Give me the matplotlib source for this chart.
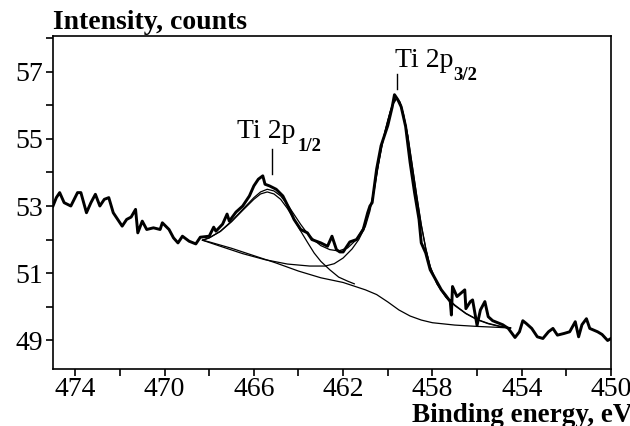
import matplotlib
matplotlib.use('Agg')
import matplotlib.pyplot as plt
from matplotlib.ticker import MultipleLocator

plt.rcParams['font.family'] = ['Liberation Serif', 'DejaVu Serif']

# raw spectrum (binding energy, intensity)
raw_x = [475.0, 474.85, 474.7, 474.5, 474.2, 473.9, 473.75, 473.5, 473.3, 473.1,
         472.9, 472.7, 472.5, 472.3, 472.1, 471.9, 471.7, 471.5, 471.3, 471.2,
         471.0, 470.8, 470.5, 470.2, 470.1, 469.8, 469.6, 469.4, 469.2, 468.9,
         468.6, 468.4, 468.0, 467.8, 467.7, 467.4, 467.2, 467.1, 466.8, 466.5,
         466.2, 466.0, 465.8, 465.6, 465.5, 465.3, 465.0, 464.7, 464.4, 464.2,
         463.9, 463.6, 463.4, 463.0, 462.7, 462.5, 462.3, 462.15, 462.0, 461.7,
         461.4, 461.1, 460.9, 460.8, 460.7, 460.5, 460.3, 460.0, 459.8, 459.7,
         459.55, 459.4, 459.2, 459.0, 458.8, 458.6, 458.5, 458.3, 458.1, 457.8,
         457.6, 457.4, 457.2, 457.15, 457.1, 456.9, 456.55, 456.5, 456.3, 456.2,
         456.0, 455.85, 455.65, 455.5, 455.3, 454.85, 454.6, 454.3, 454.1, 453.95,
         453.8, 453.55, 453.3, 453.05, 452.8, 452.6, 452.4, 452.1, 451.85, 451.6,
         451.45, 451.3, 451.1, 450.95, 450.6, 450.4, 450.15, 450.0]
raw_y = [53.0, 53.25, 53.4, 53.1, 53.0, 53.4, 53.4, 52.8, 53.1, 53.35,
         53.0, 53.2, 53.25, 52.8, 52.6, 52.4, 52.6, 52.67, 52.9, 52.2,
         52.55, 52.3, 52.35, 52.3, 52.5, 52.3, 52.05, 51.9, 52.1, 51.95,
         51.87, 52.07, 52.1, 52.37, 52.25, 52.46, 52.76, 52.55, 52.82, 53.0,
         53.3, 53.6, 53.8, 53.9, 53.65, 53.6, 53.5, 53.3, 52.9, 52.6,
         52.3, 52.2, 52.0, 51.9, 51.8, 52.1, 51.7, 51.63, 51.63, 51.93,
         52.0, 52.3, 52.8, 53.0, 53.1, 54.1, 54.8, 55.4, 55.96, 56.32,
         56.17, 55.96, 55.37, 54.3, 53.4, 52.6, 51.9, 51.6, 51.1, 50.74,
         50.5, 50.33, 50.15, 49.75, 50.6, 50.3, 50.5, 49.94, 50.15, 50.2,
         49.44, 49.9, 50.15, 49.7, 49.58, 49.46, 49.35, 49.08, 49.25, 49.58,
         49.5, 49.35, 49.1, 49.05, 49.25, 49.35, 49.15, 49.2, 49.25, 49.55,
         49.1, 49.46, 49.64, 49.35, 49.25, 49.17, 48.99, 49.05]

# fitted envelope
env_x = [468.3, 468.0, 467.5, 467.0, 466.5, 466.0, 465.7, 465.4, 465.1, 464.8,
         464.5, 464.2, 463.9, 463.6, 463.3, 463.0, 462.6, 462.2, 461.8, 461.4,
         461.1, 460.9, 460.7, 460.5, 460.3, 460.1, 459.9, 459.75, 459.6, 459.45,
         459.3, 459.1, 458.9, 458.7, 458.5, 458.3, 458.1, 457.8, 457.4, 457.0,
         456.5, 456.0, 455.5, 455.0, 454.5]
env_y = [51.98, 52.05, 52.25, 52.55, 52.9, 53.25, 53.42, 53.5, 53.45, 53.3,
         53.05, 52.75, 52.45, 52.18, 51.98, 51.82, 51.7, 51.66, 51.75, 52.0,
         52.35, 52.7, 53.2, 53.95, 54.7, 55.3, 55.8, 56.1, 56.22, 56.1,
         55.75, 55.1, 54.2, 53.3, 52.45, 51.75, 51.2, 50.7, 50.3, 50.05,
         49.8, 49.62, 49.5, 49.42, 49.37]

# Ti 2p1/2 component
p12_x = [468.3, 468.0, 467.5, 467.0, 466.5, 466.0, 465.7, 465.4, 465.1, 464.8,
         464.5, 464.2, 463.9, 463.6, 463.3, 463.0, 462.6, 462.2, 461.8, 461.5]
p12_y = [51.98, 52.05, 52.24, 52.53, 52.87, 53.2, 53.36, 53.42, 53.36, 53.2,
         52.93, 52.6, 52.25, 51.92, 51.6, 51.35, 51.1, 50.88, 50.76, 50.68]

# Ti 2p3/2 component
p32_x = [468.3, 467.5, 466.5, 465.5, 464.5, 463.5, 462.8, 462.4, 462.0, 461.6,
         461.3, 461.0, 460.8, 460.6, 460.4, 460.2, 460.0, 459.8, 459.6, 459.45,
         459.3, 459.1, 458.9, 458.7, 458.5, 458.3, 458.1, 457.8, 457.4, 457.0,
         456.5, 456.0, 455.5, 455.0, 454.5]
p32_y = [51.98, 51.8, 51.58, 51.4, 51.27, 51.21, 51.21, 51.28, 51.45, 51.72,
         52.0, 52.4, 52.85, 53.5, 54.3, 55.0, 55.55, 56.0, 56.2, 56.08,
         55.73, 55.08, 54.18, 53.28, 52.43, 51.73, 51.18, 50.68, 50.28, 50.03,
         49.79, 49.61, 49.49, 49.41, 49.36]

# background
bg_x = [468.3, 468.0, 467.0, 466.0, 465.0, 464.0, 463.0, 462.0, 461.0, 460.5,
        460.0, 459.5, 459.0, 458.5, 458.0, 457.0, 456.0, 455.0, 454.5]
bg_y = [51.98, 51.93, 51.74, 51.52, 51.3, 51.06, 50.86, 50.72, 50.5, 50.36,
        50.14, 49.9, 49.72, 49.6, 49.52, 49.45, 49.41, 49.38, 49.36]

fig = plt.figure(figsize=(6.3, 4.26), dpi=100)
ax = fig.add_axes([0.0841, 0.1338, 0.8857, 0.7817])

ax.plot(raw_x, raw_y, color='black', lw=2.1)
for xs, ys in [(env_x, env_y), (p12_x, p12_y), (p32_x, p32_y), (bg_x, bg_y)]:
    ax.plot(xs, ys, color='black', lw=0.9)

ax.set_xlim(475, 450)
ax.set_ylim(48.14, 58.07)
ax.xaxis.set_minor_locator(MultipleLocator(2))
ax.yaxis.set_minor_locator(MultipleLocator(1))
ax.set_xticks([474, 470, 466, 462, 458, 454, 450])
ax.set_yticks([49, 51, 53, 55, 57])
ax.tick_params(which='both', direction='out', length=5, width=1.2, labelsize=20, pad=2)
ax.tick_params(axis='x', pad=1)
for s in ax.spines.values():
    s.set_linewidth(1.2)

# peak labels
ax.plot([465.2, 465.2], [54.69, 53.95], color='black', lw=1)
ax.text(466.76, 55.04, 'Ti 2p', fontsize=20)
ax.text(464.03, 54.63, '1/2', fontsize=13.5, fontweight='bold')
ax.plot([459.6, 459.6], [56.94, 56.5], color='black', lw=1)
ax.text(459.68, 57.15, 'Ti 2p', fontsize=20)
ax.text(457.05, 56.76, '3/2', fontsize=13.5, fontweight='bold')

fig.text(0.0841, 0.932, 'Intensity, counts', fontsize=20, fontweight='bold')
fig.text(1.003, 0.01, 'Binding energy, eV', fontsize=19.5, fontweight='bold', ha='right')

fig.savefig('out.png', dpi=100)
